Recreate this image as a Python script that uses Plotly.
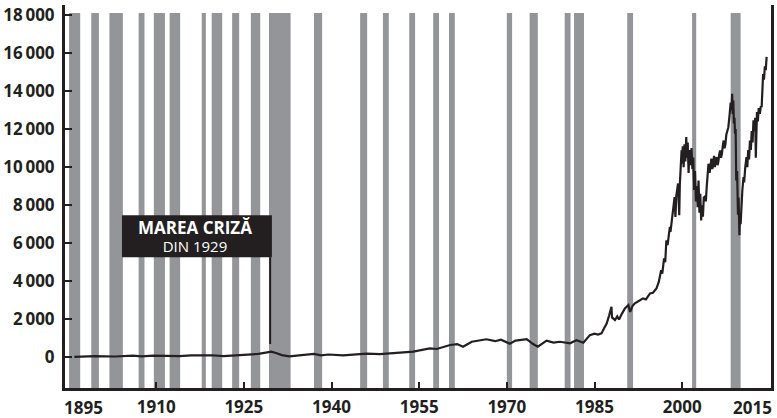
import plotly.graph_objects as go

# ---- data ----
years = [1896.0, 1899.5, 1903.0, 1906.0, 1907.5, 1909.5, 1914.0, 1916.0, 1919.5, 1921.5,
         1925.0, 1927.5, 1929.0, 1929.7, 1930.5, 1931.5, 1932.8, 1935.0, 1937.0, 1938.2,
         1939.5, 1942.0, 1946.0, 1948.3, 1951.0, 1954.0, 1956.8, 1958.0, 1960.3, 1961.5,
         1962.5, 1964.0, 1966.5, 1968.0, 1969.0, 1970.5, 1971.5, 1973.4, 1974.5, 1975.3,
         1976.8, 1978.0, 1979.1, 1980.8, 1981.9, 1983.1, 1984.2, 1985.0, 1985.6, 1986.2,
         1986.6, 1987.1, 1987.5, 1987.9, 1988.0, 1988.5, 1988.9, 1989.2, 1989.7, 1990.2,
         1990.8, 1991.1, 1991.5, 1991.9, 1992.5, 1993.3, 1993.8, 1994.5, 1995.0, 1995.6,
         1996.0, 1996.4, 1996.6, 1996.9, 1997.1, 1997.3, 1997.5, 1997.9, 1998.0, 1998.2,
         1998.5, 1998.7, 1998.85, 1999.0, 1999.3, 1999.5, 1999.6, 1999.8, 1999.9, 2000.0,
         2000.1, 2000.25, 2000.4, 2000.55, 2000.7, 2000.8, 2000.95, 2001.1, 2001.25, 2001.4,
         2001.6, 2001.75, 2001.9, 2002.05, 2002.2, 2002.35, 2002.5, 2002.65, 2002.8, 2002.95,
         2003.1, 2003.25, 2003.4, 2003.55, 2003.7, 2003.9, 2004.05, 2004.2, 2004.35, 2004.5,
         2004.7, 2004.85, 2005.0, 2005.15, 2005.3, 2005.45, 2005.6, 2005.75, 2005.9, 2006.05,
         2006.2, 2006.35, 2006.5, 2006.65, 2006.8, 2006.95, 2007.1, 2007.25, 2007.4, 2007.55,
         2007.7, 2007.9, 2008.1, 2008.3, 2008.45, 2008.55, 2008.65, 2008.75, 2008.85, 2008.95,
         2009.05, 2009.15, 2009.25, 2009.4, 2009.55, 2009.65, 2009.8, 2009.9, 2010.0, 2010.15,
         2010.3, 2010.5, 2010.6, 2010.8, 2011.0, 2011.15, 2011.3, 2011.45, 2011.6, 2011.75,
         2011.9, 2012.05, 2012.2, 2012.35, 2012.5, 2012.6, 2012.65, 2012.8, 2012.95, 2013.1,
         2013.3, 2013.45, 2013.6, 2013.7, 2013.85, 2014.0, 2014.15, 2014.3, 2014.45]
dow = [30, 60, 45, 90, 55, 90, 60, 100, 110, 70,
       130, 180, 260, 300, 230, 120, 50, 120, 180, 110,
       150, 100, 200, 175, 250, 300, 470, 440, 650, 700,
       560, 820, 950, 850, 930, 720, 880, 960, 700, 560,
       880, 780, 820, 740, 900, 770, 1170, 1250, 1200, 1260,
       1500, 1790, 2200, 2660, 2100, 1960, 2150, 1990, 2300, 2570,
       2750, 2390, 2700, 2840, 2950, 3100, 3050, 3360, 3400, 3620,
       3970, 4580, 4400, 5200, 5000, 6160, 5900, 6860, 6600, 7120,
       8170, 8430, 7380, 8500, 9140, 7470, 9100, 10700, 10880, 10200,
       11100, 10000, 11200, 10300, 11580, 10500, 11300, 9700, 10900, 10100,
       11000, 9900, 10500, 8800, 9800, 8200, 9000, 7900, 9300, 7600,
       8600, 7200, 8000, 7400, 8400, 8450, 8200, 8960, 9500, 10180,
       9700, 10300, 10450, 9900, 10100, 10600, 10000, 10400, 10530, 10100,
       10300, 10700, 10880, 10500, 10700, 11100, 11400, 11000, 11200, 11700,
       11930, 12100, 12700, 13400, 13000, 13860, 12800, 13500, 12300, 12600,
       11760, 12000, 9300, 9800, 7500, 8400, 6420, 7600, 7000, 8400,
       8800, 9480, 9200, 10000, 10530, 10000, 10900, 10400, 11400, 10900,
       11900, 11300, 12460, 11900, 12600, 10500, 11800, 12900, 12400, 13100,
       12800, 13200, 13150, 14200, 14900, 14600, 15300, 15100, 15800]

rec_start = [1895.1, 1898.9, 1902.0, 1907.0, 1909.6, 1912.3, 1917.8, 1919.5, 1923.0, 1926.2,
             1929.3, 1937.0, 1944.9, 1948.8, 1953.3, 1957.4, 1960.1, 1970.0, 1973.9, 1979.9,
             1981.5, 1990.6, 2001.7, 2008.3]
rec_end = [1897.0, 1900.2, 1904.3, 1908.0, 1911.5, 1914.1, 1918.5, 1921.3, 1924.2, 1927.8,
           1933.0, 1938.4, 1946.1, 1949.8, 1954.3, 1958.4, 1961.1, 1970.9, 1975.3, 1980.9,
           1983.2, 1991.6, 2002.4, 2010.0]

y_ticks = [0, 2000, 4000, 6000, 8000, 10000, 12000, 14000, 16000, 18000]
y_labels = ["0", "2\u2009000", "4\u2009000", "6\u2009000", "8\u2009000", "10\u2009000",
            "12\u2009000", "14\u2009000", "16\u2009000", "18\u2009000"]
x_ticks = [1910, 1925, 1940, 1955, 1970, 1985, 2000]
x_labels = ["1910", "1925", "1940", "1955", "1970", "1985", "2000"]
x_edge_labels = ["1895", "2015"]

ann_title = "MAREA CRIZĂ"
ann_sub = "DIN 1929"

# ---- layout constants ----
X_RANGE = [1894.4, 2015.2]
Y_RANGE = [-1611, 18525]
BAR_TOP = 18100
DARK = "#231f20"
GREY = "#939598"
FONT = "Open Sans"
TICKFONT = dict(family=FONT, size=17, color=DARK, weight=700)

fig = go.Figure()

shapes = []
for s, e in zip(rec_start, rec_end):
    shapes.append(dict(type="rect", xref="x", yref="y", x0=s, x1=e,
                       y0=Y_RANGE[0], y1=BAR_TOP, fillcolor=GREY,
                       line=dict(width=0), layer="below"))

# annotation box + pointer
box_x0, box_x1 = 1904.15, 1929.8
box_y0, box_y1 = 5265, 7470
shapes.append(dict(type="rect", xref="x", yref="y", x0=box_x0, x1=box_x1,
                   y0=box_y0, y1=box_y1, fillcolor=DARK, line=dict(width=0)))
shapes.append(dict(type="line", xref="x", yref="y", x0=1929.5, x1=1929.5,
                   y0=box_y0, y1=700, line=dict(color=DARK, width=2)))

fig.add_trace(go.Scatter(x=years, y=dow, mode="lines",
                         line=dict(color=DARK, width=2.2), hoverinfo="skip"))

annotations = [
    dict(x=(box_x0 + box_x1) / 2 - 0.4, y=(box_y0 + box_y1) / 2,
         xref="x", yref="y",
         text=(f"<span style='font-size:17px'><b>{ann_title}</b></span><br>"
               f"<span style='font-size:15px'>{ann_sub}</span>"),
         showarrow=False, align="center",
         font=dict(family=FONT, size=14, color="white")),
    dict(x=0, y=0, xref="paper", yref="paper", xanchor="left", yanchor="top",
         xshift=-3, yshift=-6, text=x_edge_labels[0], showarrow=False,
         font=TICKFONT),
    dict(x=1, y=0, xref="paper", yref="paper", xanchor="right", yanchor="top",
         xshift=3, yshift=-6, text=x_edge_labels[1], showarrow=False,
         font=TICKFONT),
]

fig.update_layout(
    width=777, height=418,
    margin=dict(l=65, r=6, t=5, b=30, autoexpand=False),
    paper_bgcolor="white", plot_bgcolor="white",
    showlegend=False,
    shapes=shapes,
    annotations=annotations,
    xaxis=dict(range=X_RANGE, showgrid=False, zeroline=False,
               showline=True, linecolor=DARK, linewidth=3,
               ticks="inside", ticklen=6, tickwidth=2, tickcolor=DARK,
               tickvals=x_ticks, ticktext=x_labels, ticklabelstandoff=2,
               tickfont=TICKFONT),
    yaxis=dict(range=Y_RANGE, showgrid=False, zeroline=False,
               showline=True, linecolor=DARK, linewidth=3, mirror=True,
               ticks="inside", ticklen=7, tickwidth=2, tickcolor=DARK,
               tickvals=y_ticks, ticktext=y_labels, ticklabelstandoff=4,
               tickfont=TICKFONT),
)

fig.write_html("out.html", config={"displayModeBar": False},
               post_script="document.body.style.margin='0';")
